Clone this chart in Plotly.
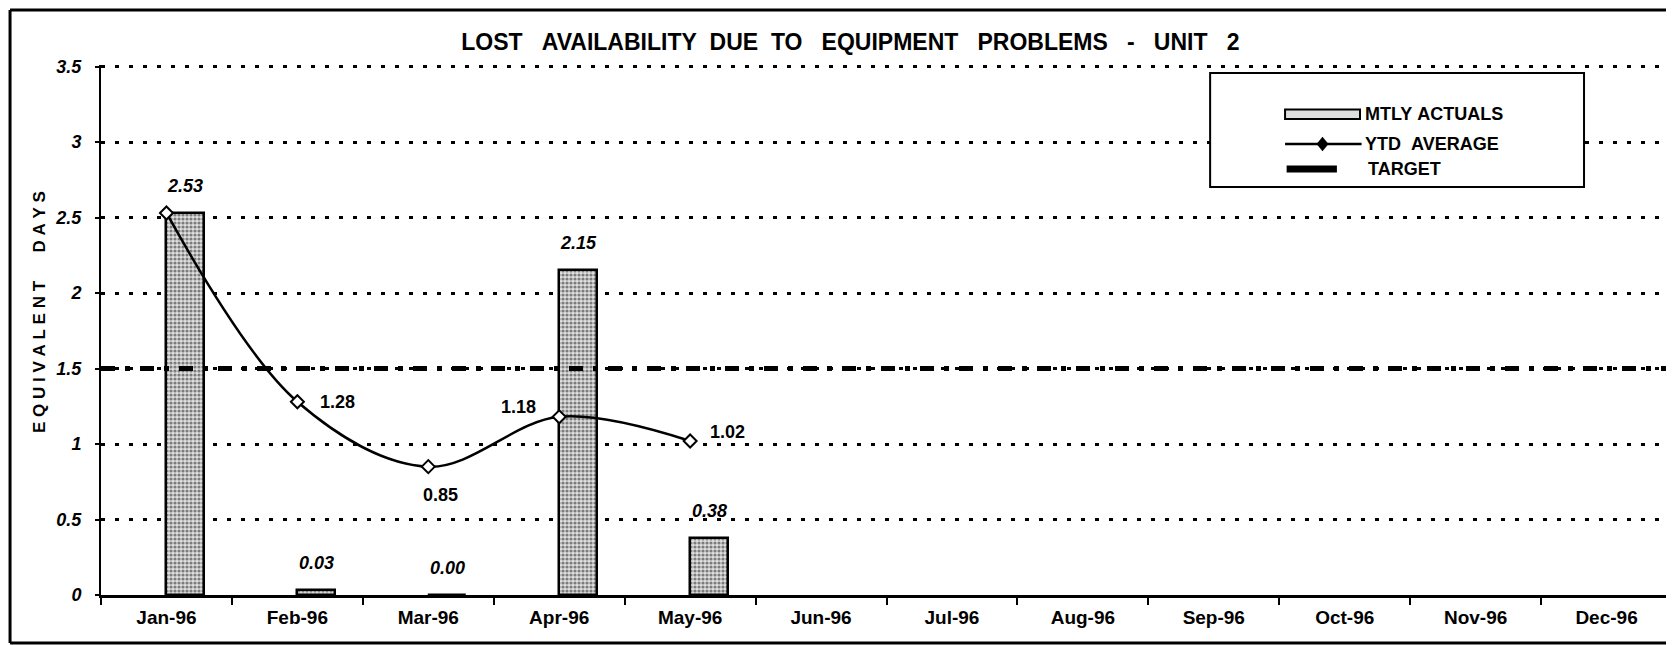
import plotly.graph_objects as go

# chart data
MONTHS = ["Jan-96", "Feb-96", "Mar-96", "Apr-96", "May-96", "Jun-96",
          "Jul-96", "Aug-96", "Sep-96", "Oct-96", "Nov-96", "Dec-96"]
ACTUAL_MONTHS = ["Jan-96", "Feb-96", "Mar-96", "Apr-96", "May-96"]
MTLY_ACTUALS = [2.53, 0.03, 0.00, 2.15, 0.38]
YTD_AVERAGE = [2.53, 1.28, 0.85, 1.18, 1.02]
TARGET = 1.5
Y_TICKS = [0, 0.5, 1, 1.5, 2, 2.5, 3, 3.5]
LEGEND_NAMES = ["MTLY ACTUALS", "YTD  AVERAGE", "TARGET"]

FONT = "Arial, Liberation Sans, sans-serif"
NB = "\u00a0"
BAR_FILL = "#dedede"


def nb(s):
    return s.replace(" ", NB)


fig = go.Figure()

# monthly bars, drawn from the category centre to the right (like the Excel original)
fig.add_trace(go.Bar(
    x=ACTUAL_MONTHS,
    y=MTLY_ACTUALS,
    name=LEGEND_NAMES[0],
    offset=0,
    width=0.29,
    marker=dict(
        color=BAR_FILL,
        line=dict(color="black", width=2.5),
        pattern=dict(shape=".", fgcolor="#1a1a1a", bgcolor=BAR_FILL, size=4, solidity=0.5),
    ),
    showlegend=False,
))

# YTD average, smoothed line
fig.add_trace(go.Scatter(
    x=ACTUAL_MONTHS,
    y=YTD_AVERAGE,
    name=LEGEND_NAMES[1],
    mode="lines+markers",
    line=dict(color="black", width=2.5, shape="spline", smoothing=1),
    marker=dict(symbol="diamond", size=10, color="white", line=dict(color="black", width=2)),
    showlegend=False,
))

# target line across the whole year
TARGET_DASH = "14px,10px,5px,10px"
fig.add_shape(
    type="line", xref="paper", yref="y",
    x0=0, x1=1, y0=TARGET, y1=TARGET,
    line=dict(color="black", width=5, dash=TARGET_DASH),
)

# bar value labels (italic, above the bars)
for m, v in zip(ACTUAL_MONTHS, MTLY_ACTUALS):
    fig.add_annotation(
        x=m, y=v, text=f"{v:.2f}", showarrow=False,
        xshift=19, yshift=27,
        font=dict(family=FONT, size=18, color="black", weight="bold", style="italic"),
    )

# YTD labels (Jan shares the bar label)
line_label_shifts = [None, (40, 0), (12, -28), (-41, 10), (37, 9)]
for m, v, s in zip(ACTUAL_MONTHS, YTD_AVERAGE, line_label_shifts):
    if s is None:
        continue
    fig.add_annotation(
        x=m, y=v, text=f"{v:.2f}", showarrow=False,
        xshift=s[0], yshift=s[1],
        font=dict(family=FONT, size=18, color="black", weight="bold"),
    )

# y axis title, letter spaced
fig.add_annotation(
    xref="paper", yref="paper", x=-0.0388, y=0.534, xanchor="center", yanchor="middle",
    text=NB.join("EQUIVALENT") + NB * 6 + NB.join("DAYS"),
    textangle=-90, showarrow=False,
    font=dict(family=FONT, size=17, color="black", weight="bold"),
)

# legend: boxed, drawn like the original with long symbols
fig.add_shape(type="rect", xref="paper", yref="paper",
              x0=0.706, x1=0.944, y0=0.770, y1=0.985,
              line=dict(color="black", width=2), fillcolor="white", layer="above")
leg_sym_x0, leg_sym_x1, leg_text_x = 0.7537, 0.8014, 0.8034
leg_rows = [0.907, 0.851, 0.804]
fig.add_shape(type="rect", xref="paper", yref="paper", layer="above",
              x0=leg_sym_x0, x1=leg_sym_x1, y0=leg_rows[0] - 0.009, y1=leg_rows[0] + 0.009,
              fillcolor=BAR_FILL, line=dict(color="black", width=2))
fig.add_shape(type="line", xref="paper", yref="paper", layer="above",
              x0=leg_sym_x0, x1=leg_sym_x1 + 0.001, y0=leg_rows[1], y1=leg_rows[1],
              line=dict(color="black", width=2.5))
fig.add_shape(type="path", xref="paper", yref="paper", layer="above",
              xsizemode="pixel", ysizemode="pixel",
              xanchor=(leg_sym_x0 + leg_sym_x1) / 2, yanchor=leg_rows[1],
              path="M0,6 L5,0 L0,-6 L-5,0 Z",
              fillcolor="black", line=dict(color="black", width=1.5))
fig.add_shape(type="line", xref="paper", yref="paper", layer="above",
              x0=leg_sym_x0 + 0.001, x1=leg_sym_x0 + 0.033, y0=leg_rows[2], y1=leg_rows[2],
              line=dict(color="black", width=7))
for name, yy, dx in zip(LEGEND_NAMES, leg_rows, [0, 0, 0.002]):
    fig.add_annotation(
        xref="paper", yref="paper", x=leg_text_x + dx, y=yy,
        xanchor="left", yanchor="middle", text=nb(name), showarrow=False,
        font=dict(family=FONT, size=18, color="black", weight="bold"),
    )

# outer frame (scanned page border: top, left and bottom only)
fr_l, fr_r, fr_b, fr_t = -0.0579, 1.0, -0.0906, 1.104
fig.add_shape(type="line", xref="paper", yref="paper", layer="above",
              x0=fr_l, x1=fr_r, y0=fr_t, y1=fr_t, line=dict(color="black", width=3))
fig.add_shape(type="line", xref="paper", yref="paper", layer="above",
              x0=fr_l, x1=fr_l, y0=fr_b, y1=fr_t, line=dict(color="black", width=3))
fig.add_shape(type="line", xref="paper", yref="paper", layer="above",
              x0=fr_l, x1=fr_r, y0=fr_b, y1=fr_b, line=dict(color="black", width=3))

title_words = ["LOST", "AVAILABILITY" + NB * 2 + "DUE" + NB * 2 + "TO", "EQUIPMENT",
               "PROBLEMS", "-", "UNIT", "2"]

# page body adds an 8px offset, so the figure is 8px smaller than the window
fig.update_layout(
    width=1666, height=637,
    margin=dict(l=93, r=2, t=57, b=50),
    paper_bgcolor="white", plot_bgcolor="white",
    font=dict(family=FONT, color="black"),
    title=dict(
        text=(NB * 3).join(title_words),
        font=dict(family=FONT, size=23, color="black", weight="bold"),
        xref="paper", x=0.477, xanchor="center",
        yref="container", y=0.947, yanchor="middle",
    ),
    showlegend=False,
    bargap=0,
    xaxis=dict(
        type="category", categoryorder="array", categoryarray=MONTHS,
        range=[-0.5, len(MONTHS) - 0.5],
        tickson="boundaries", ticks="outside", ticklen=7, tickwidth=2, tickcolor="black",
        showline=True, linecolor="black", linewidth=3,
        showgrid=False, zeroline=False,
        tickfont=dict(family=FONT, size=19, color="black", weight="bold"),
        ticklabelstandoff=3,
    ),
    yaxis=dict(
        range=[0, 3.51], tickvals=Y_TICKS,
        ticks="outside", ticklen=4, tickwidth=2, tickcolor="black",
        showline=True, linecolor="black", linewidth=2,
        showgrid=True, gridcolor="black", gridwidth=3, griddash="4px,10px",
        zeroline=False,
        tickfont=dict(family=FONT, size=18, color="black", weight="bold", style="italic"),
        ticklabelstandoff=10,
    ),
)

fig.write_html("out.html")
